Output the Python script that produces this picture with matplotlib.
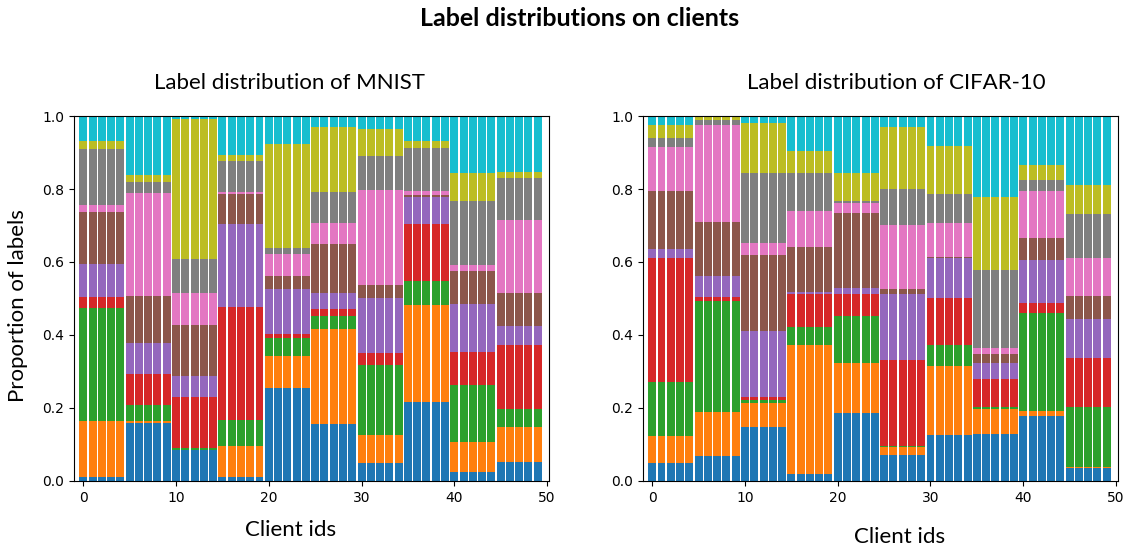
import numpy as np
import matplotlib.pyplot as plt

# cumulative label share (top of each class segment) for each group of 5 clients
mnist_cum = [
    [0.011, 0.164, 0.475, 0.503, 0.594, 0.736, 0.755, 0.909, 0.931, 1.0],
    [0.159, 0.165, 0.207, 0.293, 0.378, 0.508, 0.790, 0.820, 0.839, 1.0],
    [0.085, 0.086, 0.090, 0.231, 0.288, 0.427, 0.516, 0.609, 0.991, 1.0],
    [0.011, 0.095, 0.166, 0.476, 0.704, 0.785, 0.793, 0.878, 0.893, 1.0],
    [0.255, 0.342, 0.391, 0.402, 0.527, 0.562, 0.622, 0.638, 0.923, 1.0],
    [0.155, 0.416, 0.452, 0.471, 0.516, 0.649, 0.707, 0.793, 0.970, 1.0],
    [0.049, 0.125, 0.318, 0.351, 0.500, 0.538, 0.798, 0.890, 0.964, 1.0],
    [0.216, 0.481, 0.548, 0.704, 0.779, 0.783, 0.795, 0.912, 0.931, 1.0],
    [0.025, 0.107, 0.264, 0.353, 0.486, 0.576, 0.591, 0.766, 0.845, 1.0],
    [0.052, 0.147, 0.197, 0.373, 0.424, 0.514, 0.714, 0.830, 0.846, 1.0],
]
cifar_cum = [
    [0.049, 0.122, 0.271, 0.611, 0.635, 0.795, 0.915, 0.940, 0.975, 1.0],
    [0.068, 0.188, 0.494, 0.505, 0.561, 0.709, 0.975, 0.988, 0.997, 1.0],
    [0.147, 0.215, 0.222, 0.231, 0.412, 0.619, 0.652, 0.845, 0.981, 1.0],
    [0.020, 0.372, 0.421, 0.512, 0.519, 0.641, 0.739, 0.845, 0.905, 1.0],
    [0.186, 0.324, 0.452, 0.512, 0.529, 0.733, 0.762, 0.768, 0.845, 1.0],
    [0.072, 0.094, 0.096, 0.332, 0.513, 0.527, 0.701, 0.801, 0.970, 1.0],
    [0.125, 0.314, 0.372, 0.500, 0.611, 0.613, 0.708, 0.785, 0.918, 1.0],
    [0.128, 0.198, 0.204, 0.280, 0.324, 0.348, 0.365, 0.579, 0.777, 1.0],
    [0.177, 0.191, 0.460, 0.487, 0.605, 0.665, 0.795, 0.825, 0.866, 1.0],
    [0.036, 0.037, 0.204, 0.336, 0.445, 0.508, 0.611, 0.731, 0.810, 1.0],
]
n_clients = 50
clients_per_group = 5
titles = ["Label distribution of MNIST", "Label distribution of CIFAR-10"]

txt_font = ["Lato", "DejaVu Sans"]

fig = plt.figure(figsize=(11.28, 5.48), dpi=100)
ax1 = fig.add_axes([0.0656, 0.1223, 0.421, 0.666])
ax2 = fig.add_axes([0.570, 0.1223, 0.421, 0.666])

fig.text(0.514, 0.967, "Label distributions on clients", ha="center", va="center",
         fontsize=18, fontweight="bold", family=txt_font)

colors = plt.cm.tab10.colors
ids = np.arange(n_clients)

# titles / xlabels in the original are not quite centred on the axes
title_x = [0.454, 0.533]
xlabel_pos = [(0.455, -0.134), (0.541, -0.153)]

for i, (ax, cum, title) in enumerate(zip([ax1, ax2], [mnist_cum, cifar_cum], titles)):
    props = np.diff(np.array(cum), axis=1, prepend=0.0)
    props = np.repeat(props, clients_per_group, axis=0)  # one row per client
    bottom = np.zeros(n_clients)
    for k in range(props.shape[1]):
        ax.bar(ids, props[:, k], bottom=bottom, width=0.86, color=colors[k])
        bottom += props[:, k]
    ax.set_xlim(-1.0, 50.2)
    ax.set_ylim(0, 1.0)
    ax.set_xticks([0, 10, 20, 30, 40, 50])
    ax.text(title_x[i], 1.09, title, transform=ax.transAxes, ha="center",
            va="center", fontsize=16, family=txt_font)
    ax.set_xlabel("Client ids", fontsize=16, family=txt_font, va="center")
    ax.xaxis.set_label_coords(*xlabel_pos[i])

ax1.set_ylabel("Proportion of labels", fontsize=16, family=txt_font, va="center")
ax1.yaxis.set_label_coords(-0.118, 0.482)

plt.savefig("out.png", dpi=100)
